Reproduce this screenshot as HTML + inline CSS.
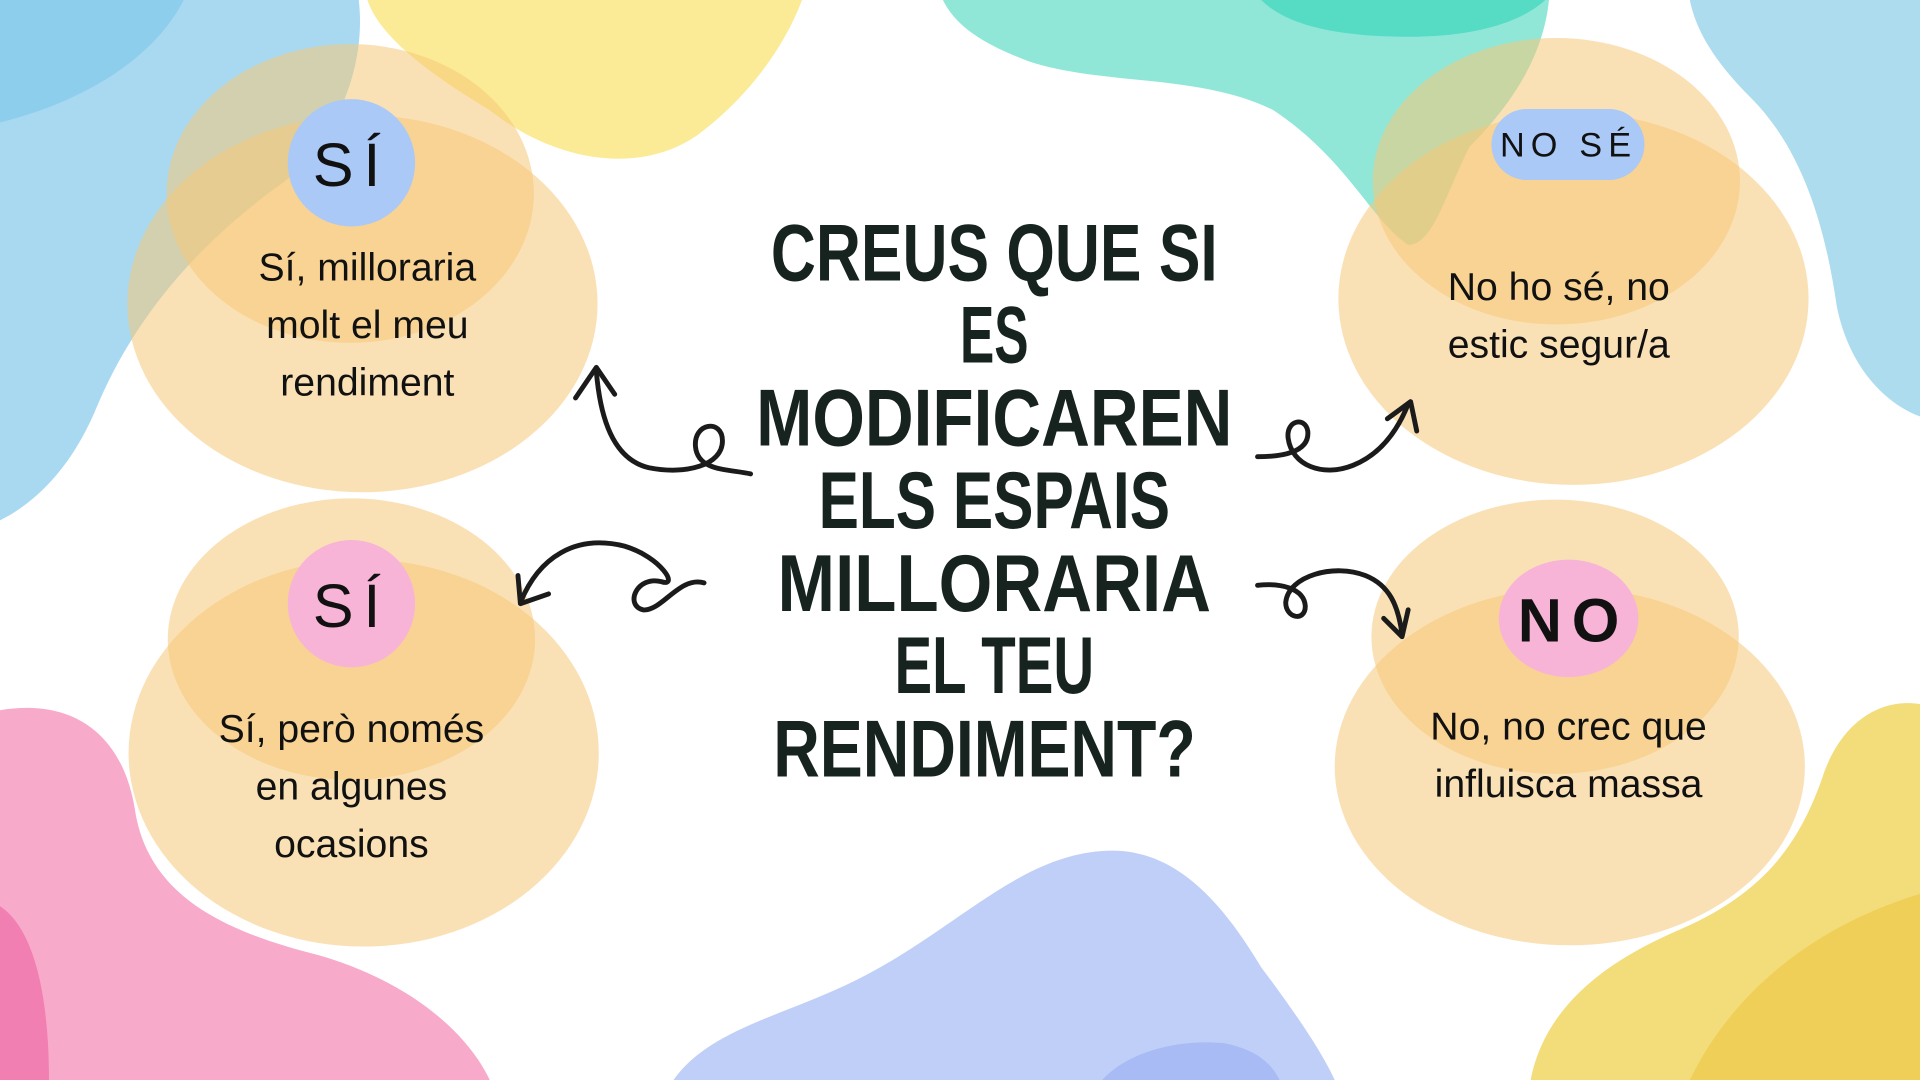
<!DOCTYPE html>
<html><head><meta charset="utf-8"><style>
html,body{margin:0;padding:0;background:#fff;}
svg{display:block}
</style></head><body>
<svg width="1920" height="1080" viewBox="0 0 1568 882" xmlns="http://www.w3.org/2000/svg">
<rect width="1568" height="882" fill="#fff"/>
<path d="M0,0 L293,0 C300,60 270,120 230,150 C160,200 110,260 80,330 C60,380 30,410 0,425 Z" fill="#a9d9f1"/>
<path d="M0,0 L150,0 C130,40 80,80 0,100 Z" fill="#7cc6ea" opacity="0.6"/>
<path d="M300,0 L655,0 C640,40 610,80 570,110 C520,145 450,130 400,90 C350,60 310,30 300,0 Z" fill="#fbeb96"/>
<path d="M770,0 L1265,0 C1260,50 1230,90 1200,120 C1180,160 1170,200 1150,200 C1120,180 1100,130 1040,90 C980,60 900,70 840,50 C800,35 780,20 770,0 Z" fill="#90e7d8"/>
<path d="M1030,0 L1262,0 C1240,20 1200,30 1150,30 C1090,30 1050,20 1030,0 Z" fill="#56dbc4"/>
<path d="M1380,0 L1568,0 L1568,340 C1540,330 1510,300 1500,250 C1490,180 1470,120 1430,80 C1400,50 1385,25 1380,0 Z" fill="#acdcee"/>
<path d="M0,580 C60,570 100,600 110,660 C120,730 180,760 260,780 C330,800 380,840 400,882 L0,882 Z" fill="#f8aacb"/>
<path d="M0,740 C30,760 40,820 40,882 L0,882 Z" fill="#f27fb1"/>
<path d="M550,882 C580,840 640,830 700,800 C780,760 830,700 900,695 C960,690 1000,740 1030,790 C1060,830 1080,860 1090,882 Z" fill="#bfcff8"/>
<path d="M900,882 C920,860 960,848 1000,852 C1030,858 1040,872 1045,882 Z" fill="#a8bbf4"/>
<path d="M1250,882 C1260,830 1300,790 1370,760 C1440,730 1470,690 1490,630 C1505,590 1535,570 1568,575 L1568,882 Z" fill="#f3dc7a"/>
<path d="M1380,882 C1410,820 1470,760 1568,730 L1568,882 Z" fill="#ecc94a" opacity="0.7"/>
<g fill="#f6c978" fill-opacity="0.55">
<ellipse cx="296" cy="248" rx="192" ry="154"/><ellipse cx="286" cy="158" rx="150" ry="122"/>
<ellipse cx="297" cy="615" rx="192" ry="158"/><ellipse cx="287" cy="522" rx="150" ry="115"/>
<ellipse cx="1285" cy="244" rx="192" ry="152"/><ellipse cx="1271" cy="148" rx="150" ry="117"/>
<ellipse cx="1282" cy="626" rx="192" ry="146"/><ellipse cx="1270" cy="520" rx="150" ry="112"/>
</g>
<circle cx="287" cy="133" r="52" fill="#aac9f6"/>
<circle cx="287" cy="493" r="52" fill="#f7b4d6"/>
<rect x="1218" y="89" width="125" height="58" rx="29" fill="#aac9f6"/>
<ellipse cx="1281" cy="505" rx="57" ry="48" fill="#f7b4d6"/>
<g font-family="Liberation Sans, sans-serif" fill="#111" text-anchor="middle">
<text x="287" y="152" font-size="50" letter-spacing="8">SÍ</text>
<text x="287" y="512" font-size="50" letter-spacing="8">SÍ</text>
<text x="1281" y="128" font-size="28" letter-spacing="5">NO SÉ</text>
<text x="1285" y="524" font-size="50" font-weight="bold" letter-spacing="8">NO</text>
<g font-size="32">
<text x="300" y="229">Sí, milloraria</text>
<text x="300" y="276">molt el meu</text>
<text x="300" y="323">rendiment</text>
<text x="287" y="606">Sí, però només</text>
<text x="287" y="653">en algunes</text>
<text x="287" y="700">ocasions</text>
<text x="1273" y="245">No ho sé, no</text>
<text x="1273" y="292">estic segur/a</text>
<text x="1281" y="604">No, no crec que</text>
<text x="1281" y="651">influisca massa</text>
</g>
<g font-family="Liberation Sans Narrow, Liberation Sans, sans-serif" font-weight="bold" font-size="66" fill="#17231e">
<text x="812" y="229" textLength="365" lengthAdjust="spacingAndGlyphs">CREUS QUE SI</text>
<text x="812" y="296" textLength="56" lengthAdjust="spacingAndGlyphs">ES</text>
<text x="812" y="364" textLength="389" lengthAdjust="spacingAndGlyphs">MODIFICAREN</text>
<text x="812" y="431" textLength="287" lengthAdjust="spacingAndGlyphs">ELS ESPAIS</text>
<text x="812" y="499" textLength="354" lengthAdjust="spacingAndGlyphs">MILLORARIA</text>
<text x="812" y="566" textLength="163" lengthAdjust="spacingAndGlyphs">EL TEU</text>
<text x="804" y="634" textLength="345" lengthAdjust="spacingAndGlyphs">RENDIMENT?</text>
</g>
</g>
<g fill="none" stroke="#1b1b1b" stroke-width="4" stroke-linecap="round" stroke-linejoin="round">
<path d="M613,387 C595,383 570,385 568,365 C566,345 590,342 590,360 C590,380 560,388 530,382 C500,375 490,340 487,303"/>
<path d="M470,325 L487,300 L502,322"/>
<path d="M575,476 C555,470 540,500 525,498 C510,494 520,470 540,475 C555,480 540,455 510,446 C470,436 440,455 425,492"/>
<path d="M423,470 L425,493 L448,485"/>
<path d="M1027,373 C1045,373 1070,370 1068,352 C1066,340 1050,343 1052,358 C1055,380 1080,390 1105,380 C1125,372 1140,355 1150,330"/>
<path d="M1133,342 L1152,328 L1157,352"/>
<path d="M1027,478 C1045,476 1065,480 1066,495 C1066,508 1050,505 1050,492 C1052,470 1090,460 1115,470 C1135,478 1142,495 1145,518"/>
<path d="M1130,505 L1145,520 L1150,498"/>
</g>
</svg>
</body></html>
